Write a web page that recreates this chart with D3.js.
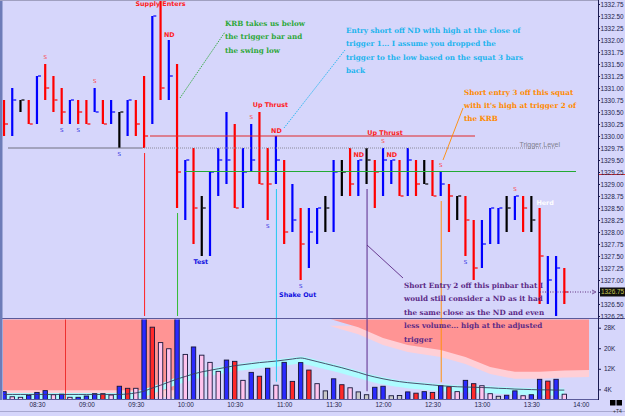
<!DOCTYPE html>
<html>
<head>
<meta charset="utf-8">
<script src="https://cdn.jsdelivr.net/npm/d3@7/dist/d3.min.js"></script>
<style>
  body { margin: 0; background: #d6d6fb; }
  svg { display: block; }
</style>
</head>
<body>
<svg id="chart" width="625" height="416"></svg>
<script>
// 5 minute bars, first bar 08:10
var highs  = [1330.75,1331.00,1330.75,1330.75,1331.25,1331.50,1331.25,1331.00,1330.75,1330.75,
              1330.75,1331.00,1330.75,1330.75,1330.50,1330.75,1330.75,1331.25,1332.50,1332.85,
              1332.00,1331.50,1329.50,1329.75,1328.75,1329.25,1329.75,1330.50,1330.25,1329.75,
              1330.25,1330.50,1329.75,1330.00,1329.50,1329.00,1328.50,1328.50,1328.50,1328.75,
              1329.50,1329.50,1329.75,1329.50,1329.75,1329.50,1329.75,1329.50,1329.50,1329.75,
              1329.50,1329.50,1329.50,1329.25,1329.00,1328.75,1328.75,1328.25,1328.25,1328.50,
              1328.50,1328.75,1328.75,1328.75,1328.75,1328.50,1327.50,1327.50,1327.25];
var lows   = [1330.00,1330.00,1330.50,1330.25,1330.25,1330.75,1330.50,1330.25,1330.25,1330.25,
              1330.25,1330.50,1330.25,1330.25,1329.75,1330.00,1330.00,1329.75,1330.25,1330.75,
              1330.75,1328.50,1328.25,1327.75,1327.50,1327.50,1328.75,1329.00,1328.50,1328.50,
              1329.25,1329.00,1328.25,1329.00,1327.75,1328.00,1327.00,1327.25,1327.75,1328.00,
              1328.00,1328.75,1328.75,1328.75,1329.00,1328.50,1328.75,1329.00,1328.75,1328.75,
              1328.75,1329.00,1328.75,1328.75,1328.00,1328.25,1327.50,1327.00,1327.25,1327.75,
              1327.75,1328.00,1328.25,1328.00,1328.00,1326.50,1326.50,1326.25,1326.50];
var closes = [1330.25,1330.75,1330.75,1330.25,1331.25,1331.00,1330.75,1330.50,1330.75,1330.50,
              1330.25,1330.50,1330.25,1330.50,1330.50,1330.75,1330.25,1330.00,1332.50,1331.00,
              1331.25,1329.25,1329.50,1328.50,1328.50,1329.25,1329.50,1329.50,1328.50,1329.25,
              1329.50,1329.00,1329.00,1329.50,1328.00,1328.25,1327.75,1328.00,1328.50,1328.50,
              1329.25,1329.25,1329.00,1329.50,1329.50,1329.25,1329.50,1329.50,1328.75,1329.50,
              1329.00,1329.00,1328.75,1329.00,1328.75,1328.75,1328.25,1327.25,1327.75,1328.50,
              1328.50,1328.50,1328.75,1328.50,1328.25,1327.50,1327.00,1327.25,1326.75];
var barColors = "rbkrbrrrbrrbrbkbrrbrbrbrkbbbrbbrrbrbrbbkbkrbkrbbrbrkrbrkrrbbbkbrkrbbr".split("");

// volume in thousands
var volumes = [3.1,1.1,0.9,1.7,2.8,3.5,1.9,2.1,0.9,0.9,
               1.4,2.3,2.3,1.8,5.2,4.4,4.4,33,28.2,22.2,
               19.8,33,17.6,20.5,17.3,14.5,11.0,15.4,14.9,7.5,
               10.6,9.1,12.2,5.6,14.5,7.1,14.4,11.5,6.2,3.4,
               8.1,5.8,4.6,3.0,1.9,4.8,5.2,1.5,1.6,3.0,
               2.5,3.1,2.8,5.4,5.0,3.1,7.5,6.2,5.4,2.3,
               1.3,1.7,3.4,1.5,1.9,7.9,7.2,7.9,2.1];
var volColors = "bppbbbpbpbbbrpbrpbrppbpbpppbrpbrbpbrbrpgbrpggbbggbrbrbrpbrppgbbpbbrbp".split("");
var volAverage = [2.0,2.0,2.0,2.0,2.0,2.0,2.0,2.0,2.0,2.0,
                  2.0,2.0,2.0,2.0,2.0,2.2,2.6,3.3,4.5,5.6,
                  6.8,8.0,9.0,10.0,10.8,11.4,12.0,12.6,13.2,13.6,
                  14.0,14.4,14.7,15.0,15.4,15.8,16.2,15.6,14.8,14.0,
                  13.2,12.4,11.5,10.6,9.6,8.8,8.1,7.5,7.0,6.6,
                  6.3,6.0,5.7,5.4,5.2,5.0,4.9,4.8,4.7,4.6,
                  4.4,4.3,4.1,4.0,3.9,3.8,3.8,3.7,3.7];
// lower edge of the upper volume band, [bar, K]
var bandLeft  = [[-0.6,3.6],[20.6,3.6],[20.9,31.5],[-0.6,31.5]];
var bandRight = [[39.5,31.5],[41,30],[43,28.2],[46,24],[49,21.3],[53,19.3],[56,16.6],
                 [59,12.7],[62,10.8],[65,10.8],[68,11.3],[71,11.5],[71,31.5]];

var priceTicks = ["1332.75","1332.50","1332.25","1332.00","1331.75","1331.50","1331.25","1331.00",
                  "1330.75","1330.50","1330.25","1330.00","1329.75","1329.50","1329.25","1329.00",
                  "1328.75","1328.50","1328.25","1328.00","1327.75","1327.50","1327.25","1327.00",
                  "1326.75","1326.50","1326.25"];
var volTicks = [28, 20, 12, 4];
var timeTicks = ["08:30","09:00","09:30","10:00","10:30","11:00","11:30","12:00","12:30","13:00","13:30","14:00"];

var sLabels = [[5,"up"],[7,"dn"],[9,"dn"],[11,"up"],[14,"dn"],[30,"up"],[32,"dn"],[36,"dn"],
               [46,"up"],[53,"up"],[56,"dn"],[62,"up"]];
var barLabels = [
  [19, "Supply Enters", "#ff2020"],
  [20, "ND", "#ff2020"],
  [31, "Up Thrust", "#ff2020"],
  [33, "ND", "#ff2020"],
  [46, "Up Thrust", "#ff2020"],
  [43, "ND", "#ff2020"],
  [47, "ND", "#ff2020"],
  [24, "Test", "#1010e0"],
  [36, "Shake Out", "#1010e0"],
  [65, "Herd", "#ffffff"]
];

var svg = d3.select("#chart");
var W = 625, axisX = 598;

var day = new Date(2010, 0, 4, 8, 10);
function barTime(b) { return new Date(+day + b * 5 * 60000); }
function parseHM(s) { var p = s.split(":"); return new Date(2010, 0, 4, +p[0], +p[1]); }

var x = d3.scaleTime().domain([day, parseHM("14:00")]).range([4, 580.8]);
var y = d3.scaleLinear().domain([1332.75, 1326.25]).range([4, 316]);
var v = d3.scaleLinear().domain([0, 28]).range([399.6, 327.7]);
function bx(i) { return x(barTime(i)); }

var colMap = { r: "#ff0000", b: "#0000ff", k: "#000000" };
var volFill = { r: "#ff2a2a", b: "#2a2aff", p: "#ffc4ee", g: "#c8c8c8" };

// backgrounds
svg.append("rect").attr("width", W).attr("height", 416).attr("fill", "#d6d6fb");
svg.append("defs").html(
  '<clipPath id="pclip"><rect x="3" y="0" width="595" height="318"/></clipPath>' +
  '<clipPath id="vclip"><rect x="3" y="319.5" width="595" height="79.5"/></clipPath>');

var vol = svg.append("g").attr("clip-path", "url(#vclip)");
var price = svg.append("g").attr("clip-path", "url(#pclip)");

// ---- volume panel ----
var band = d3.line().x(function(d) { return bx(d[0]); }).y(function(d) { return v(d[1]); });
[bandLeft, bandRight].forEach(function(pts) {
  vol.append("path").attr("d", band(pts) + "Z").attr("fill", "#ffcfd6")
    .attr("transform", "translate(0,7)");
});
[bandLeft, bandRight].forEach(function(pts) {
  vol.append("path").attr("d", band(pts) + "Z").attr("fill", "#ff9494");
});

var maLine = d3.line().x(function(d, i) { return bx(i); }).y(function(d) { return v(d); }).curve(d3.curveMonotoneX);
vol.append("path").attr("d", maLine(volAverage)).attr("fill", "none")
  .attr("stroke", "#aefcff").attr("stroke-width", 7).attr("transform", "translate(0,2)");

vol.append("line").attr("x1", 65.5).attr("x2", 65.5).attr("y1", 319).attr("y2", 399)
  .attr("stroke", "#ee3030").attr("stroke-width", 1);

vol.selectAll("rect.vb").data(volumes).enter().append("rect")
  .attr("class", "vb")
  .attr("x", function(d, i) { return bx(i) - 2.2; })
  .attr("width", 4.4)
  .attr("y", function(d) { return v(d); })
  .attr("height", function(d) { return v(0) - v(d); })
  .attr("fill", function(d, i) { return volFill[volColors[i]]; })
  .attr("stroke", "#15153a").attr("stroke-width", 0.9);

vol.append("path").attr("d", maLine(volAverage)).attr("fill", "none")
  .attr("stroke", "#3c3c5c").attr("stroke-width", 0.9);

// ---- price panel ----
price.selectAll("rect.bar").data(highs).enter().append("rect")
  .attr("class", "bar")
  .attr("x", function(d, i) { return bx(i) - 1.1; })
  .attr("width", 2.2)
  .attr("y", function(d) { return y(d); })
  .attr("height", function(d, i) { return y(lows[i]) - y(d); })
  .attr("fill", function(d, i) { return colMap[barColors[i]]; });
price.selectAll("line.cl").data(closes).enter().append("line")
  .attr("x1", function(d, i) { return bx(i) + 1; })
  .attr("x2", function(d, i) { return bx(i) + 4; })
  .attr("y1", function(d) { return y(d); })
  .attr("y2", function(d) { return y(d); })
  .attr("stroke", function(d, i) { return colMap[barColors[i]]; })
  .attr("stroke-width", 1.2);

// reference lines
price.append("line").attr("x1", 150).attr("x2", 475).attr("y1", y(1330.0)).attr("y2", y(1330.0))
  .attr("stroke", "#e02828").attr("stroke-width", 1);
price.append("line").attr("x1", 8).attr("x2", 142).attr("y1", y(1329.75)).attr("y2", y(1329.75))
  .attr("stroke", "#707080").attr("stroke-width", 1);
price.append("line").attr("x1", 142).attr("x2", 556).attr("y1", y(1329.75)).attr("y2", y(1329.75))
  .attr("stroke", "#8a8a9a").attr("stroke-width", 1).attr("stroke-dasharray", "1,1");
price.append("text").attr("x", 560).attr("y", y(1329.75) - 1.5).attr("text-anchor", "end")
  .attr("font-family", "Liberation Sans").attr("font-size", 7).attr("fill", "#80808e").text("Trigger Level");
price.append("line").attr("x1", 185).attr("x2", 576).attr("y1", y(1329.25) - 0.5).attr("y2", y(1329.25) - 0.5)
  .attr("stroke", "#22aa33").attr("stroke-width", 1.2);
price.append("line").attr("x1", 540).attr("x2", 594).attr("y1", y(1326.75)).attr("y2", y(1326.75))
  .attr("stroke", "#603080").attr("stroke-width", 1).attr("stroke-dasharray", "1,1.5");

// S marks
price.selectAll("text.s").data(sLabels).enter().append("text")
  .attr("x", function(d) { return bx(d[0]); })
  .attr("y", function(d) { return d[1] === "up" ? y(highs[d[0]]) - 5 : y(lows[d[0]]) + 8; })
  .attr("text-anchor", "middle").attr("font-family", "DejaVu Sans").attr("font-size", 5.5)
  .attr("fill", function(d) { return d[1] === "up" ? "#ff3030" : "#2020e0"; })
  .text("S");

// named bar labels
var labelPos = {
  "Supply Enters": function(i) { return [bx(i), 6]; },
  "ND": function(i) { return [bx(i) + 0.5, y(highs[i]) - 3]; },
  "Up Thrust": function(i) { return i === 31 ? [bx(i) + 11, y(highs[i]) - 5] : [bx(i) + 2, y(highs[i]) - 13]; },
  "Test": function(i) { return [bx(i) - 1, y(lows[i]) + 8]; },
  "Shake Out": function(i) { return [bx(i) - 3, y(lows[i]) + 17]; },
  "Herd": function(i) { return [bx(i) + 5.5, y(highs[i]) - 3]; }
};
barLabels.forEach(function(d) {
  var p = labelPos[d[1]](d[0]);
  price.append("text").attr("x", p[0]).attr("y", p[1]).attr("text-anchor", "middle")
    .attr("font-family", "DejaVu Sans").attr("font-weight", "bold").attr("font-size", 6.4)
    .attr("fill", d[2]).text(d[1]);
});

// annotation lines from bar low down to volume bar
var callouts = [[17, "#ff2020"], [21, "#33bb33"], [33, "#22c8f0"], [44, "#5c2a8a"], [53, "#ff9010"]];
callouts.forEach(function(c) {
  var i = c[0];
  svg.append("line").attr("x1", bx(i) + 0.5).attr("x2", bx(i) + 0.5)
    .attr("y1", y(lows[i]) + 5).attr("y2", Math.max(316, v(volumes[i]) - 3.5))
    .attr("stroke", c[1]).attr("stroke-width", 1);
});

// text notes
var notes = [
  { x: 225, y: 26, color: "#2ea83a", lines: ["KRB takes us below", "the trigger bar and", "the swing low"],
    from: [180, 98], to: [225, 32], dash: "1.5,1" },
  { x: 346, y: 33, color: "#22b4ee", lines: ["Entry short off ND with high at the close of",
      "trigger 1... I assume you dropped the", "trigger to the low based on the squat 3 bars", "back"],
    from: [284, 128], to: [345, 50], dash: "1.5,1" },
  { x: 464, y: 94.5, color: "#ff8a00", lines: ["Short entry 3 off this squat", "with it's high at trigger 2 of", "the KRB"],
    from: [443, 160], to: [463, 108], dash: null },
  { x: 404, y: 288, color: "#5c2a86", lines: ["Short Entry 2 off this pinbar that I",
      "would still consider a ND as it had", "the same close as the ND and even",
      "less volume... high at the adjusted", "trigger"],
    from: [367, 245], to: [403, 278], dash: null }
];
notes.forEach(function(n) {
  svg.append("line").attr("x1", n.from[0]).attr("y1", n.from[1]).attr("x2", n.to[0]).attr("y2", n.to[1])
    .attr("stroke", n.color).attr("stroke-width", 0.9).attr("stroke-dasharray", n.dash);
  var t = svg.append("text").attr("font-family", "DejaVu Serif").attr("font-size", 7.2)
    .attr("font-weight", "bold").attr("fill", n.color);
  n.lines.forEach(function(l, k) {
    t.append("tspan").attr("x", n.x).attr("y", n.y + k * 13.4).text(l);
  });
});

// ---- frame and axes ----
svg.append("line").attr("x1", 0).attr("x2", W).attr("y1", 318.5).attr("y2", 318.5).attr("stroke", "#5a5a9a").attr("stroke-width", 1);
svg.append("line").attr("x1", 3).attr("x2", axisX).attr("y1", 399.5).attr("y2", 399.5).attr("stroke", "#5a5a9a").attr("stroke-width", 1);
svg.append("rect").attr("x", 0).attr("y", 0).attr("width", 2.5).attr("height", 400).attr("fill", "#6d7cb8");
svg.append("line").attr("x1", 0).attr("x2", axisX).attr("y1", 0.5).attr("y2", 0.5).attr("stroke", "#a0a0c0");
svg.append("line").attr("x1", 0).attr("x2", W).attr("y1", 411.5).attr("y2", 411.5).attr("stroke", "#a8a8d0");
svg.append("line").attr("x1", axisX).attr("x2", W).attr("y1", y(1329.25) + 2.5).attr("y2", y(1329.25) + 2.5)
  .attr("stroke", "#e03030").attr("stroke-width", 1);

var pAxis = svg.append("g").attr("transform", "translate(" + axisX + ",0)")
  .call(d3.axisRight(y).tickValues(priceTicks.map(Number)).tickFormat(d3.format(".2f")).tickSize(2).tickPadding(0.5));
var vAxis = svg.append("g").attr("transform", "translate(" + axisX + ",0)")
  .call(d3.axisRight(v).tickValues(volTicks).tickFormat(function(d) { return d + "K"; }).tickSize(3).tickPadding(3));
var tAxis = svg.append("g").attr("transform", "translate(0,399.5)")
  .call(d3.axisBottom(x).tickValues(timeTicks.map(parseHM)).tickFormat(d3.timeFormat("%H:%M")).tickSize(0).tickPadding(3));
[pAxis, vAxis, tAxis].forEach(function(g) {
  g.select(".domain").remove();
  g.selectAll("line").attr("stroke", "#1a1a50");
  g.selectAll("text").attr("font-family", "Liberation Sans").attr("font-size", 6.4).attr("fill", "#22224a");
});
svg.append("line").attr("x1", axisX + 0.5).attr("x2", axisX + 0.5).attr("y1", 0).attr("y2", 400)
  .attr("stroke", "#1a1a50").attr("stroke-width", 1);

// last price box
svg.append("rect").attr("x", 600).attr("y", y(1326.75) - 4.5).attr("width", 25).attr("height", 9).attr("fill", "#101010");
svg.append("text").attr("x", 601).attr("y", y(1326.75) + 2.3).attr("font-family", "Liberation Sans").attr("font-size", 6.4)
  .attr("fill", "#c8c850").text("1326.75");
svg.append("path").attr("d", "M592," + (y(1326.75) - 2) + "L596," + y(1326.75) + "L592," + (y(1326.75) + 2))
  .attr("fill", "none").attr("stroke", "#603080").attr("stroke-width", 0.8);

// corner widgets
svg.append("rect").attr("x", 610).attr("y", 400).attr("width", 5.5).attr("height", 5.5).attr("fill", "#000");
svg.append("rect").attr("x", 616.5).attr("y", 400).attr("width", 5.5).attr("height", 5.5).attr("fill", "#000");
svg.append("text").attr("x", 613).attr("y", 413).attr("font-family", "Liberation Sans").attr("font-size", 5)
  .attr("fill", "#333").text("+T4");
</script>
</body>
</html>
